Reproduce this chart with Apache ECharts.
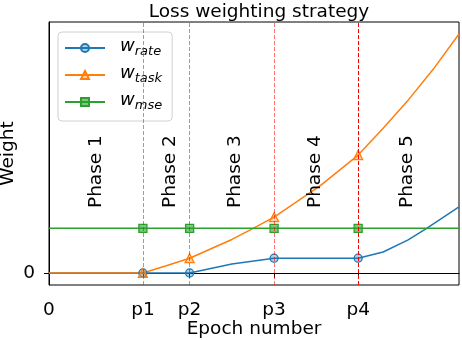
<!DOCTYPE html>
<html>
<head>
<meta charset="utf-8">
<script src="https://cdn.jsdelivr.net/npm/echarts@6/dist/echarts.min.js"></script>
<style>
  html, body { margin: 0; padding: 0; background: #fff; }
  #main { width: 462px; height: 340px; }
</style>
</head>
<body>
<div id="main"></div>
<script>
    // phase boundaries (epochs) and axis ticks
    var phaseEpochs = [22.9, 34.3, 54.9, 75.4];
    var xTickValues = [0, 22.9, 34.3, 54.9, 75.4];
    var xTickLabels = ['0', 'p1', 'p2', 'p3', 'p4'];

    // w_rate
    var rateX = [0, 22.9, 34.3, 44.6, 54.9, 75.4, 81.5, 87.6, 92.1, 100];
    var rateY = [0, 0, 0, 0.2, 0.33, 0.33, 0.47, 0.74, 1.0, 1.48];
    // w_task
    var taskX = [0, 22.9, 28.6, 34.3, 44.6, 49.8, 54.9, 66.1, 75.4, 81.5, 87.6, 93.7, 100];
    var taskY = [0, 0, 0.16, 0.33, 0.75, 1.0, 1.25, 1.95, 2.64, 3.24, 3.87, 4.56, 5.35];
    // w_mse
    var mseX = [0, 22.9, 34.3, 54.9, 75.4, 100];
    var mseY = [1, 1, 1, 1, 1, 1];

    var phaseNames = ['Phase 1', 'Phase 2', 'Phase 3', 'Phase 4', 'Phase 5'];
    var phaseLabelX = [11.6, 29.5, 45.4, 64.9, 87.3];
    var phaseLabelY = [2.27, 2.27, 2.27, 2.27, 2.27];

    var font = 'DejaVu Sans';

    function makeData(xs, ys) {
        return xs.map(function (x, i) {
            var item = { value: [x, ys[i]] };
            if (phaseEpochs.indexOf(x) < 0) item.symbol = 'none';
            return item;
        });
    }

    function lineSeries(name, color, fill, symbol, xs, ys) {
        return {
            name: name,
            type: 'line',
            symbol: symbol,
            symbolSize: symbol === 'triangle' ? 9 : 8,
            showAllSymbol: true,
            lineStyle: { color: color, width: 1.5 },
            itemStyle: { color: fill, borderColor: color, borderWidth: 1.3 },
            emphasis: { disabled: true },
            data: makeData(xs, ys)
        };
    }

    var chart = echarts.init(document.getElementById('main'));

    chart.setOption({
        animation: false,
        title: {
            text: 'Loss weighting strategy',
            left: 254,
            textAlign: 'center',
            top: -2,
            textStyle: { fontFamily: font, fontSize: 18.5, fontWeight: 'normal', color: '#000' }
        },
        grid: {
            left: 49, right: 3, top: 22, bottom: 55,
            containLabel: false,
            outerBoundsMode: 'none',
            show: true, borderColor: '#000', borderWidth: 1
        },
        legend: {
            orient: 'vertical',
            left: 58,
            top: 32,
            padding: [5, 10, 9, 6],
            itemWidth: 40,
            itemHeight: 10,
            itemGap: 6,
            borderColor: '#d0d0d0',
            borderWidth: 1,
            borderRadius: 4,
            backgroundColor: 'rgba(255,255,255,0.8)',
            data: ['rate', 'task', 'mse'],
            formatter: function (name) {
                return '{w|w}{s|' + name + '}';
            },
            textStyle: {
                fontFamily: font,
                rich: {
                    w: { fontFamily: font, fontSize: 18, fontStyle: 'italic', lineHeight: 22, verticalAlign: 'top', padding: [0, 0, 0, 10], color: '#000' },
                    s: { fontFamily: font, fontSize: 13, fontStyle: 'italic', lineHeight: 13, verticalAlign: 'top', padding: [8, 0, 0, 0], color: '#000' }
                }
            }
        },
        xAxis: {
            type: 'value',
            min: 0,
            max: 100,
            name: 'Epoch number',
            nameLocation: 'middle',
            nameGap: 35,
            nameMoveOverlap: false,
            nameTextStyle: { fontFamily: font, fontSize: 18.5, color: '#000' },
            splitLine: { show: false },
            axisLine: { lineStyle: { color: '#000', width: 1 } },
            axisTick: { customValues: xTickValues, length: 5, lineStyle: { color: '#000' } },
            axisLabel: {
                customValues: xTickValues,
                margin: 16,
                fontFamily: font,
                fontSize: 18.5,
                color: '#000',
                formatter: function (v) {
                    var best = 0;
                    for (var i = 0; i < xTickValues.length; i++) {
                        if (Math.abs(xTickValues[i] - v) < Math.abs(xTickValues[best] - v)) best = i;
                    }
                    return xTickLabels[best];
                }
            }
        },
        yAxis: {
            type: 'value',
            min: -0.27,
            max: 5.62,
            name: 'Weight',
            nameLocation: 'middle',
            nameGap: 31,
            nameMoveOverlap: false,
            nameTextStyle: { fontFamily: font, fontSize: 18.5, color: '#000' },
            splitLine: { show: false },
            axisLine: { show: true, lineStyle: { color: '#000', width: 1 } },
            axisTick: { customValues: [0], length: 5, lineStyle: { color: '#000' } },
            axisLabel: { customValues: [0], margin: 14, fontFamily: font, fontSize: 18.5, color: '#000' }
        },
        series: [
            {
                name: 'phases',
                type: 'line',
                data: [],
                markLine: {
                    silent: true,
                    symbol: ['none', 'none'],
                    label: { show: false },
                    lineStyle: { color: '#ff0000', width: 1, type: [4, 2] },
                    data: phaseEpochs.map(function (x, i) {
                        return {
                            xAxis: x,
                            lineStyle: { color: '#ff0000', width: 1, type: [4, 2], opacity: i === 3 ? 1 : 0.55 }
                        };
                    })
                }
            },
            {
                name: 'labels',
                type: 'scatter',
                symbolSize: 0,
                itemStyle: { color: '#000', opacity: 1 },
                silent: true,
                z: 5,
                label: {
                    show: true,
                    position: 'inside',
                    rotate: 90,
                    fontFamily: font,
                    fontSize: 18.5,
                    color: '#000',
                    opacity: 1,
                    textBorderWidth: 0,
                    formatter: function (p) { return phaseNames[p.dataIndex]; }
                },
                data: phaseLabelX.map(function (x, i) { return [x, phaseLabelY[i]]; })
            },
            lineSeries('rate', '#1f77b4', 'rgba(31,119,180,0.35)', 'circle', rateX, rateY),
            lineSeries('task', '#ff7f0e', 'rgba(255,127,14,0.35)', 'triangle', taskX, taskY),
            lineSeries('mse', '#2ca02c', 'rgba(44,160,44,0.6)', 'rect', mseX, mseY)
        ]
    });
</script>
</body>
</html>
